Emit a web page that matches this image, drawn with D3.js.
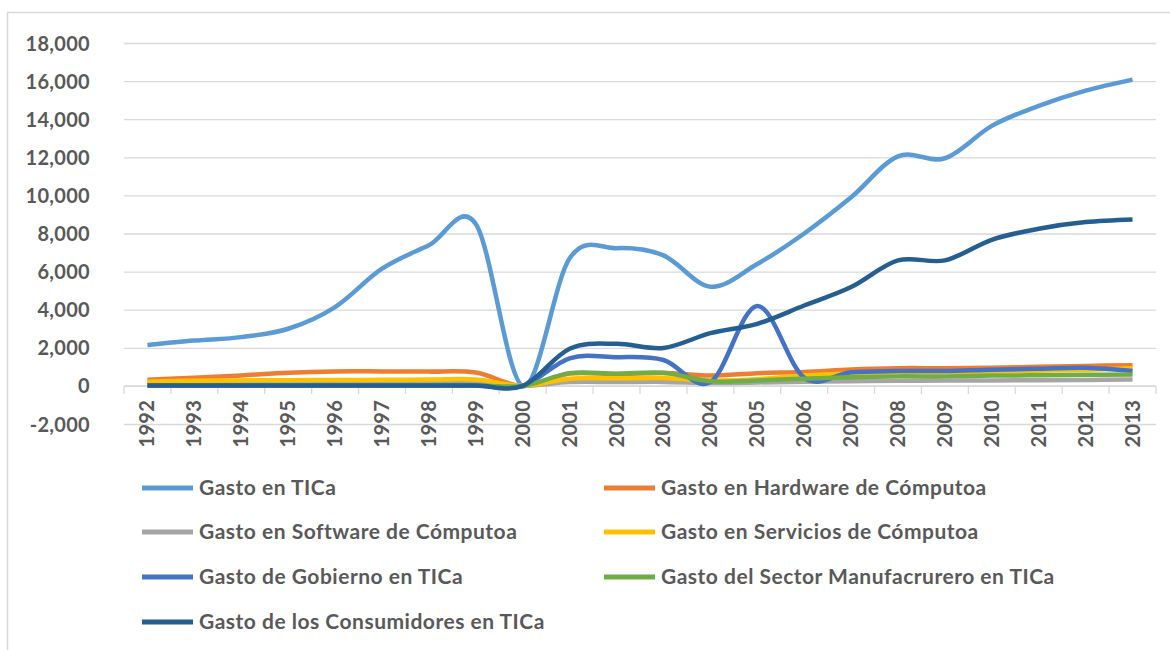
<!DOCTYPE html>
<html>
<head>
<meta charset="utf-8">
<script src="https://cdn.jsdelivr.net/npm/d3@7"></script>
<style>
  body { margin: 0; background: #fff; }
  text { font-family: Lato, "Open Sans", sans-serif; font-weight: bold; fill: #595959; }
</style>
</head>
<body>
<div class="chart"></div>
<script>
// data
var years = ["1992","1993","1994","1995","1996","1997","1998","1999","2000","2001","2002",
             "2003","2004","2005","2006","2007","2008","2009","2010","2011","2012","2013"];
var tica         = [2150,2380,2560,3000,4140,6150,7380,8500,0,6700,7230,6850,5210,6400,8000,9900,12050,11950,13650,14700,15500,16080];
var hardware     = [320,430,550,690,760,760,750,700,0,650,620,680,550,670,730,860,930,930,950,1000,1050,1090];
var software     = [100,110,120,130,140,150,150,150,0,200,200,210,150,180,220,250,270,280,290,300,310,330];
var servicios    = [220,270,290,300,310,320,330,340,0,380,400,410,290,350,550,650,700,720,760,800,850,920];
var gobierno     = [20,20,20,20,20,20,20,20,0,1450,1510,1360,200,4200,430,720,780,780,850,900,950,780];
var manufactura  = [40,40,40,40,40,40,40,40,0,670,640,690,240,290,380,460,500,500,540,560,580,600];
var consumidores = [20,20,20,20,20,20,20,20,0,1950,2210,1990,2770,3260,4220,5190,6590,6590,7670,8250,8600,8740];

var seriesNames = ["Gasto en TICa","Gasto en Hardware de Cómputoa","Gasto en Software de Cómputoa",
                   "Gasto en Servicios de Cómputoa","Gasto de Gobierno en TICa",
                   "Gasto del Sector Manufacrurero en TICa","Gasto de los Consumidores en TICa"];
var seriesValues = [tica, hardware, software, servicios, gobierno, manufactura, consumidores];
var colors = ["#5B9BD5","#ED7D31","#A5A5A5","#FFC000","#4472C4","#70AD47","#255E91"];
var yTicks = [-2000,0,2000,4000,6000,8000,10000,12000,14000,16000,18000];

var svgWidth = 1170, svgHeight = 650;

var svg = d3.select(".chart")
    .append("svg")
    .attr("width", svgWidth)
    .attr("height", svgHeight);

// chart frame (runs off the right and bottom edge like the reference)
svg.append("rect")
    .attr("x", 7.5).attr("y", 12.5)
    .attr("width", 1200).attr("height", 700)
    .attr("fill", "none")
    .attr("stroke", "#d9d9d9")
    .attr("stroke-width", 1.5);

var xScale = d3.scaleBand()
    .domain(years)
    .range([124, 1156])
    .padding(0);

var yScale = d3.scaleLinear()
    .domain([-2000, 18000])
    .range([424, 43]);

var xc = d => xScale(d) + xScale.bandwidth() / 2;

// gridlines + y labels
var fmt = d3.format(",");
var leftAxis = d3.axisLeft(yScale)
    .tickValues(yTicks)
    .tickSize(-(1156 - 124))
    .tickPadding(34)
    .tickFormat(d => fmt(d).replace("\u2212", "-"));

var yAxis = svg.append("g")
    .attr("transform", "translate(124,0)")
    .call(leftAxis);
yAxis.select(".domain").remove();
yAxis.selectAll("line").attr("stroke", "#d9d9d9").attr("stroke-width", 1.3);
yAxis.selectAll("text")
    .style("font-size", "20px")
    .style("letter-spacing", "0.3px")
    .attr("dy", "0.35em");

// category axis at zero
var axisG = svg.append("g");
axisG.append("line")
    .attr("x1", 124).attr("x2", 1156)
    .attr("y1", yScale(0)).attr("y2", yScale(0))
    .attr("stroke", "#d9d9d9").attr("stroke-width", 1.3);
axisG.selectAll("line.tick")
    .data(years.concat(["end"]))
    .enter()
    .append("line")
    .attr("class", "tick")
    .attr("x1", (d, i) => i < years.length ? xScale(d) : 1156)
    .attr("x2", (d, i) => i < years.length ? xScale(d) : 1156)
    .attr("y1", yScale(0)).attr("y2", yScale(0) + 8)
    .attr("stroke", "#d9d9d9").attr("stroke-width", 1.3);

axisG.selectAll("text")
    .data(years)
    .enter()
    .append("text")
    .attr("transform", d => `translate(${xc(d)}, ${yScale(0) + 14}) rotate(-90)`)
    .attr("text-anchor", "end")
    .attr("dy", "0.35em")
    .style("font-size", "20px")
    .style("letter-spacing", "0.3px")
    .text(d => d);

// lines
var line = d3.line()
    .x((d, i) => xc(years[i]))
    .y(d => yScale(d))
    .curve(d3.curveCatmullRom.alpha(0));

svg.append("g")
    .selectAll("path")
    .data(seriesValues)
    .enter()
    .append("path")
    .attr("d", d => line(d))
    .attr("fill", "none")
    .attr("stroke", (d, i) => colors[i])
    .attr("stroke-width", 4.5)
    .attr("stroke-linejoin", "round");

// legend, two columns
var legendCols = [142, 604];
var legendRows = [488, 532, 577, 622];

var legend = svg.append("g")
    .selectAll("g")
    .data(seriesNames)
    .enter()
    .append("g")
    .attr("transform", (d, i) => `translate(${legendCols[i % 2]}, ${legendRows[Math.floor(i / 2)]})`);

legend.append("line")
    .attr("x1", 0).attr("x2", 51)
    .attr("y1", 0).attr("y2", 0)
    .attr("stroke", (d, i) => colors[i])
    .attr("stroke-width", 5);

legend.append("text")
    .attr("x", 57)
    .attr("dy", "0.35em")
    .style("font-size", "21px")
    .style("letter-spacing", "0.5px")
    .text(d => d);
</script>
</body>
</html>
